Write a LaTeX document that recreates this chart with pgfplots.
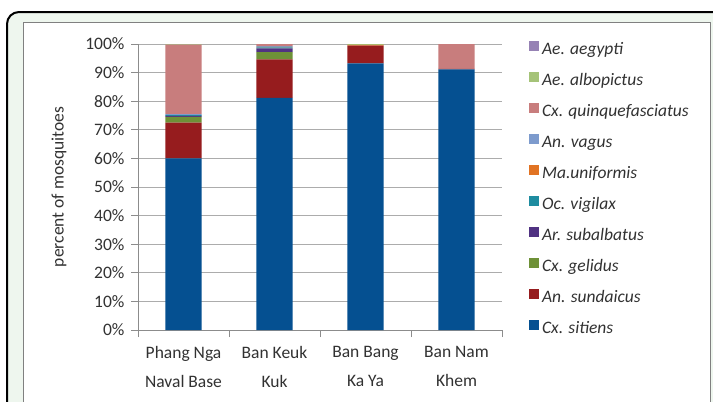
\documentclass[border=0pt]{standalone}
\usepackage{fontspec}
\setmainfont{Carlito}
\usepackage{pgfplots}
\pgfplotsset{compat=1.18}

\definecolor{cSit}{RGB}{5,80,145}
\definecolor{cSun}{RGB}{150,28,30}
\definecolor{cGel}{RGB}{110,145,55}
\definecolor{cSub}{RGB}{80,50,130}
\definecolor{cVig}{RGB}{30,140,160}
\definecolor{cUni}{RGB}{225,115,35}
\definecolor{cVag}{RGB}{125,155,205}
\definecolor{cQui}{RGB}{200,125,125}
\definecolor{cAlb}{RGB}{165,195,120}
\definecolor{cAeg}{RGB}{150,130,180}
\definecolor{frameGreen}{RGB}{238,246,238}
\definecolor{txt}{RGB}{50,50,50}

\newcommand{\chartfont}{\fontsize{17.5bp}{21bp}\selectfont}

\begin{document}
\begin{tikzpicture}
\useasboundingbox (0,0) rectangle (713bp,-402bp);
\begin{scope}
  \clip (0,0) rectangle (713bp,-402bp);
  \draw[line width=2bp, fill=frameGreen, rounded corners=12bp] (7bp,-12bp) rectangle (760bp,-450bp);
  \draw[line width=1bp, draw=gray, fill=white] (23bp,-22bp) rectangle (710bp,-450bp);
\end{scope}
\begin{axis}[
    at={(138bp,-330bp)}, anchor=south west,
    scale only axis,
    width=364bp, height=286bp,
    ybar stacked, bar width=0.4,
    xmin=-0.5, xmax=3.5, ymin=0, ymax=100,
    axis x line*=bottom, axis y line*=left,
    axis line style={draw=gray!90, line width=0.8bp},
    tick align=outside, major tick length=7bp,
    tick style={draw=gray!90, line width=0.8bp},
    ytick={0,10,...,100},
    yticklabels={0\%,10\%,20\%,30\%,40\%,50\%,60\%,70\%,80\%,90\%,100\%},
    ymajorgrids, grid style={draw=gray!65, line width=0.8bp},
    xtick={-0.5,0.5,1.5,2.5,3.5}, xticklabels={},
    extra x ticks={0,1,2,3},
    extra x tick labels={Phang Nga\\Naval Base, Ban Keuk\\Kuk, Ban Bang\\Ka Ya, Ban Nam\\Khem},
    extra x tick style={major tick length=0pt, grid=none,
      tick label style={align=center, font=\fontsize{17.5bp}{29bp}\selectfont, text=txt, yshift=-13bp}},
    y tick label style={font=\chartfont, text=txt, xshift=-3bp},
    ylabel={percent of mosquitoes},
    ylabel style={font=\chartfont, text=txt, at={(rel axis cs:-0.217,0.5)}, anchor=center},
    reverse legend,
    legend cell align=left,
    legend style={draw=none, fill=none, text=txt,
      at={(1.074,1.0105)}, anchor=north west, row sep=14.0bp, inner sep=0pt,
      nodes={inner sep=0pt, font=\chartfont\itshape, text height=12bp, text depth=4bp}},
    legend image code/.code={\fill[#1] (0bp,-1bp) rectangle (10bp,9bp);},
    every axis plot/.append style={draw=none},
]
\addplot+[fill=cSit] coordinates {(0,60) (1,81.2) (2,93.2) (3,91.1)};
\addplot+[fill=cSun] coordinates {(0,12.5) (1,13.4) (2,6.2) (3,0.3)};
\addplot+[fill=cGel] coordinates {(0,2) (1,2.6) (2,0) (3,0)};
\addplot+[fill=cSub] coordinates {(0,0.4) (1,1.3) (2,0) (3,0)};
\addplot+[fill=cVig] coordinates {(0,0.2) (1,0.3) (2,0) (3,0)};
\addplot+[fill=cUni] coordinates {(0,0) (1,0.2) (2,0.3) (3,0)};
\addplot+[fill=cVag] coordinates {(0,0.4) (1,0.3) (2,0) (3,0)};
\addplot+[fill=cQui] coordinates {(0,24.3) (1,0.7) (2,0) (3,8.6)};
\addplot+[fill=cAlb] coordinates {(0,0.2) (1,0) (2,0.3) (3,0)};
\addplot+[fill=cAeg] coordinates {(0,0) (1,0) (2,0) (3,0)};
\legend{{\,Cx. sitiens}, {\,An. sundaicus}, {\,Cx. gelidus}, {\,Ar. subalbatus},
  {\,Oc. vigilax}, {\,Ma.uniformis}, {\,An. vagus}, {\,Cx. quinquefasciatus},
  {\,Ae. albopictus}, {\,Ae. aegypti}}
\end{axis}
\end{tikzpicture}
\end{document}
